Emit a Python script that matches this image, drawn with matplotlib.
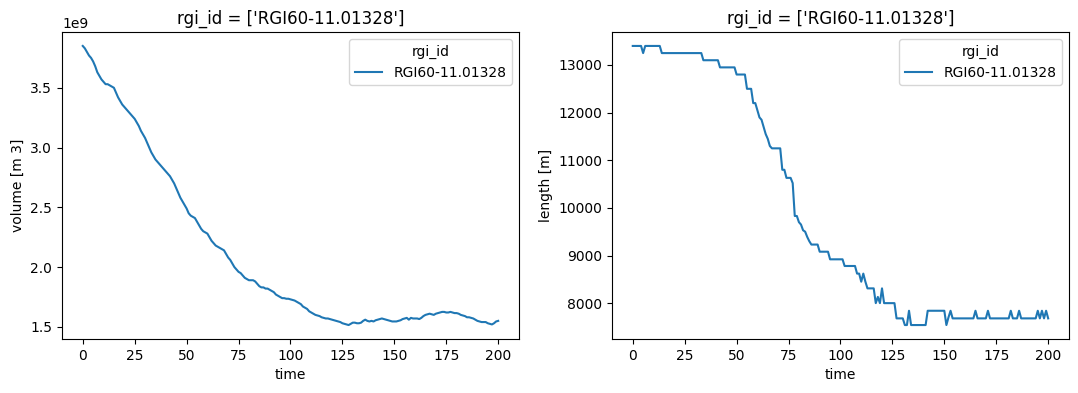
import numpy as np
import matplotlib
matplotlib.use("Agg")
import matplotlib.pyplot as plt

rgi_id = "RGI60-11.01328"
time = np.arange(0, 201)

# glacier volume, 1e9 m3, one value per year
volume = np.array([
    3.85, 3.83, 3.80, 3.77, 3.75, 3.72, 3.68, 3.63, 3.60, 3.57, 3.55,
    3.53, 3.53, 3.52, 3.51, 3.50, 3.46, 3.42, 3.39, 3.36, 3.34,
    3.32, 3.30, 3.28, 3.26, 3.24, 3.21, 3.18, 3.14, 3.11, 3.08,
    3.04, 3.00, 2.96, 2.93, 2.90, 2.88, 2.86, 2.84, 2.82, 2.80,
    2.78, 2.76, 2.73, 2.70, 2.66, 2.62, 2.58, 2.55, 2.52, 2.49,
    2.45, 2.43, 2.42, 2.41, 2.38, 2.35, 2.32, 2.30, 2.29, 2.28,
    2.25, 2.22, 2.20, 2.18, 2.17, 2.16, 2.15, 2.14, 2.11, 2.08,
    2.06, 2.03, 2.00, 1.98, 1.96, 1.95, 1.93, 1.91, 1.90, 1.89,
    1.89, 1.89, 1.88, 1.86, 1.84, 1.83, 1.83, 1.82, 1.82, 1.81,
    1.80, 1.79, 1.77, 1.76, 1.75, 1.74, 1.74, 1.735, 1.735, 1.73,
    1.725, 1.72, 1.71, 1.70, 1.69, 1.67, 1.66, 1.65, 1.63, 1.62,
    1.61, 1.60, 1.595, 1.59, 1.58, 1.575, 1.57, 1.57, 1.565, 1.56,
    1.555, 1.55, 1.545, 1.54, 1.53, 1.525, 1.52, 1.515, 1.525, 1.535,
    1.535, 1.53, 1.53, 1.535, 1.55, 1.56, 1.55, 1.545, 1.55, 1.545,
    1.555, 1.56, 1.565, 1.57, 1.565, 1.56, 1.555, 1.55, 1.545, 1.545,
    1.545, 1.55, 1.555, 1.565, 1.57, 1.575, 1.56, 1.575, 1.57, 1.57,
    1.57, 1.565, 1.575, 1.59, 1.60, 1.605, 1.61, 1.605, 1.60, 1.61,
    1.615, 1.62, 1.625, 1.625, 1.62, 1.62, 1.625, 1.62, 1.615, 1.615,
    1.61, 1.60, 1.595, 1.59, 1.58, 1.58, 1.575, 1.57, 1.56, 1.55,
    1.545, 1.54, 1.54, 1.54, 1.53, 1.525, 1.52, 1.53, 1.545, 1.55,
]) * 1e9

# glacier length, m, one value per year
length = np.array([
    13400, 13400, 13400, 13400, 13400, 13250, 13400, 13400, 13400, 13400,
    13400, 13400, 13400, 13400, 13250, 13250, 13250, 13250, 13250, 13250,
    13250, 13250, 13250, 13250, 13250, 13250, 13250, 13250, 13250, 13250,
    13250, 13250, 13250, 13250, 13100, 13100, 13100, 13100, 13100, 13100,
    13100, 13100, 12950, 12950, 12950, 12950, 12950, 12950, 12950, 12950,
    12800, 12800, 12800, 12800, 12800, 12500, 12500, 12500, 12200, 12200,
    12050, 11900, 11850, 11700, 11550, 11450, 11300, 11250, 11250, 11250,
    11250, 11250, 10800, 10800, 10630, 10630, 10630, 10520, 9830, 9830,
    9700, 9650, 9530, 9500, 9390, 9300, 9230, 9230, 9230, 9230,
    9080, 9080, 9080, 9080, 9080, 8920, 8920, 8920, 8920, 8920,
    8920, 8920, 8780, 8780, 8780, 8780, 8780, 8780, 8620, 8620,
    8450, 8620, 8450, 8310, 8310, 8310, 8310, 8000, 8130, 8000,
    8310, 8000, 8000, 8000, 8000, 8000, 8000, 7680, 7680, 7680,
    7680, 7540, 7540, 7840, 7540, 7540, 7540, 7540, 7540, 7540,
    7540, 7540, 7840, 7840, 7840, 7840, 7840, 7840, 7840, 7840,
    7840, 7540, 7700, 7840, 7680, 7680, 7680, 7680, 7680, 7680,
    7680, 7680, 7680, 7680, 7680, 7840, 7680, 7680, 7680, 7680,
    7680, 7840, 7680, 7680, 7680, 7680, 7680, 7680, 7680, 7680,
    7680, 7680, 7840, 7680, 7680, 7680, 7840, 7680, 7680, 7680,
    7680, 7680, 7680, 7680, 7680, 7840, 7680, 7840, 7680, 7840,
    7680,
])

fig = plt.figure(figsize=(10.78, 3.93), dpi=100)
ax1 = fig.add_axes([0.0575, 0.1374, 0.4239, 0.7812])
ax2 = fig.add_axes([0.5677, 0.1374, 0.4239, 0.7812])

title = f"rgi_id = ['{rgi_id}']"

ax1.plot(time, volume, color="C0", label=rgi_id)
ax1.set_xlabel("time")
ax1.set_ylabel("volume [m 3]")
ax1.set_title(title)
ax1.legend(title="rgi_id", loc="upper right")

ax2.plot(time, length, color="C0", label=rgi_id)
ax2.set_xlabel("time")
ax2.set_ylabel("length [m]")
ax2.set_title(title)
ax2.legend(title="rgi_id", loc="upper right")

fig.savefig("out.png", dpi=100)
